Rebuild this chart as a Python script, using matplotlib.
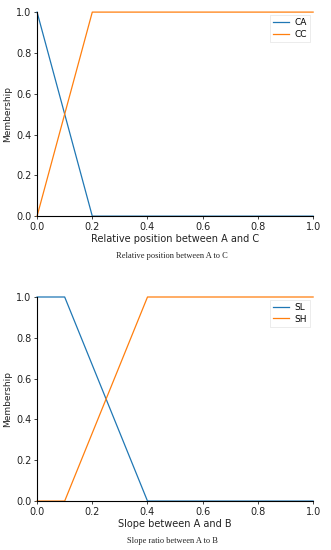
import matplotlib
matplotlib.use("Agg")
import matplotlib.pyplot as plt

# Data
pos_x = [0.0, 0.2, 1.0]
ca = [1.0, 0.0, 0.0]
cc = [0.0, 1.0, 1.0]

slope_x = [0.0, 0.1, 0.4, 1.0]
sl = [1.0, 1.0, 0.0, 0.0]
sh = [0.0, 0.0, 1.0, 1.0]

ticks = [0.0, 0.2, 0.4, 0.6, 0.8, 1.0]

fig = plt.figure(figsize=(3.31, 5.5), dpi=100)

def style(ax, xlabel):
    ax.set_xlim(0, 1)
    ax.set_ylim(0, 1)
    ax.set_xticks(ticks)
    ax.set_yticks(ticks)
    ax.spines['top'].set_visible(False)
    ax.spines['right'].set_visible(False)
    ax.spines['left'].set_linewidth(0.8)
    ax.spines['bottom'].set_linewidth(0.8)
    ax.tick_params(labelsize=7, length=2.5, width=0.6, pad=1.5, colors='#222222')
    ax.set_xlabel(xlabel, fontsize=7, labelpad=2, color='#222222')
    ax.set_ylabel('Membership', fontsize=6.5, labelpad=3, color='#222222')
    leg = ax.legend(loc='upper right', fontsize=6.5, handlelength=1.8,
                    borderpad=0.35, labelspacing=0.3, borderaxespad=0.3,
                    handletextpad=0.6, fancybox=False)
    leg.get_frame().set_linewidth(0.5)
    leg.get_frame().set_edgecolor('#dddddd')

ax1 = fig.add_axes([0.112, 0.607, 0.834, 0.371])
ax1.plot(pos_x, ca, color='#1f77b4', lw=0.9, label='CA', clip_on=False)
ax1.plot(pos_x, cc, color='#ff7f0e', lw=0.9, label='CC', clip_on=False)
style(ax1, 'Relative position between A and C')

ax2 = fig.add_axes([0.112, 0.089, 0.834, 0.371])
ax2.plot(slope_x, sl, color='#1f77b4', lw=0.9, label='SL', clip_on=False)
ax2.plot(slope_x, sh, color='#ff7f0e', lw=0.9, label='SH', clip_on=False)
style(ax2, 'Slope between A and B')

fig.text(0.52, 1 - 256/550, 'Relative position between A to C', ha='center', va='center',
         fontsize=6, family='Liberation Serif', color='#222222')
fig.text(0.52, 1 - 541/550, 'Slope ratio between A to B', ha='center', va='center',
         fontsize=6, family='Liberation Serif', color='#222222')

fig.savefig('out.png', dpi=100)
